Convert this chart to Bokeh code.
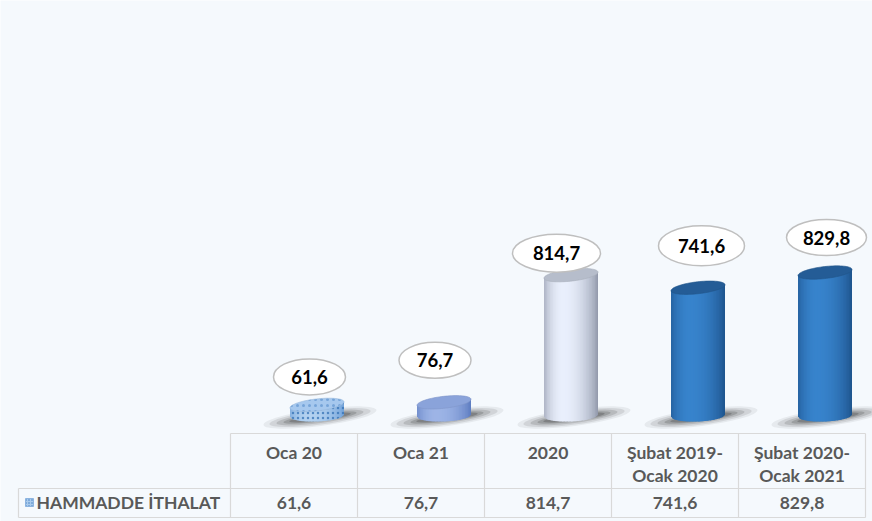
import numpy as np
from bokeh.plotting import figure
from bokeh.models import Range1d
from bokeh.core.properties import value
from bokeh.embed import file_html
from bokeh.resources import INLINE

# ---------------- data ----------------
categories = ["Oca 20", "Oca 21", "2020", "Şubat 2019-\nOcak 2020", "Şubat 2020-\nOcak 2021"]
values = [61.6, 76.7, 814.7, 741.6, 829.8]
value_labels = ["61,6", "76,7", "814,7", "741,6", "829,8"]
series_name = "HAMMADDE İTHALAT"

# ---------------- layout (reference pixel space) ----------------
W, H = 872, 521
REF_W, REF_H = 872, 521
COL0, COLW = 293.5, 127.0      # centre of first table column, column width
BASE, PXV = 415.0, 0.1723      # baseline y, px per value unit
CYL_DX = 23.0                  # cylinder offset right of column centre
RX, RY, TILT, BTILT = 27.0, 6.0, 0.11, 0.04
BG = "#F5F9FD"
FONT = value("Lato")


def X(px):
    return (px - COL0) / COLW


def Y(py):
    return (BASE - py) / PXV


def hex2rgb(h):
    h = h.lstrip("#")
    return np.array([int(h[k:k + 2], 16) for k in (0, 2, 4)], dtype=float)


def mix(a, b, t):
    c = hex2rgb(a) * (1 - t) + hex2rgb(b) * t
    return "#%02x%02x%02x" % tuple(int(round(v)) for v in c)


def shade(u, uh=-0.3):
    if u < uh:
        d = (uh - u) / (1 + uh)
        return 0.3 + 0.7 * np.cos(d * np.pi / 2) ** 0.7
    d = (u - uh) / (1 - uh)
    return np.cos(min(d, 1.0) * np.pi / 2) ** 0.7


p = figure(width=W, height=H, x_range=Range1d(X(0), X(REF_W)), y_range=Range1d(Y(REF_H), Y(0)),
           output_backend="svg", toolbar_location=None, min_border=0,
           x_axis_location=None, y_axis_location=None,
           background_fill_color=BG, border_fill_color=BG, outline_line_color=None)
p.grid.visible = False

styles = [
    dict(dark="#6C9FD8", light="#B3D1F0", top="#A6C8EE", hatch="dot"),
    dict(dark="#5878BE", light="#9DB4E6", top="#8AA3DA", hatch=None),
    dict(dark="#8B92A5", light="#E9EFFC", top="#B6BDCB", hatch=None),
    dict(dark="#1C5189", light="#3783CC", top="#245C96", hatch=None),
    dict(dark="#1C5189", light="#3783CC", top="#245C96", hatch=None),
]
LABEL_DX = [-7.5, -9.0, -14.5, 3.5, 1.5]
LABEL_UP = [28, 42, 22, 42, 35]
LABEL_W = [72, 72, 88, 86, 80]
LABEL_H = [36, 36, 38, 40, 36]

# shadows (tilted, darker close to the base)
for i, v in enumerate(values):
    cx = COL0 + COLW * i + CYL_DX
    for w, h, a in [(114, 17, 0.06), (102, 14, 0.09), (88, 11, 0.12), (74, 8, 0.15), (62, 6, 0.18)]:
        p.ellipse(x=[X(cx + 3)], y=[Y(BASE + 2)], width=w / COLW, height=h / PXV, angle=0.13,
                  fill_color="#000000", fill_alpha=a, line_color=None)

# cylinders
N = 36
us = np.linspace(-1, 1, N + 1)
for i, v in enumerate(values):
    st = styles[i]
    cx = COL0 + COLW * i + CYL_DX
    top = BASE - PXV * v
    xs, ys, cols = [], [], []
    for j in range(N):
        u0 = us[j]
        u1 = min(1.0, us[j + 1] + 1.0 / N)   # overlap to hide seams
        col = mix(st["dark"], st["light"], shade((us[j] + us[j + 1]) / 2))
        px = [cx + u0 * RX, cx + u1 * RX, cx + u1 * RX, cx + u0 * RX]
        py = [top - u0 * RX * TILT, top - u1 * RX * TILT,
              BASE - u1 * RX * BTILT + RY * np.sqrt(max(0, 1 - u1 ** 2)),
              BASE - u0 * RX * BTILT + RY * np.sqrt(max(0, 1 - u0 ** 2))]
        xs.append([X(q) for q in px])
        ys.append([Y(q) for q in py])
        cols.append(col)
    p.patches(xs=xs, ys=ys, fill_color=cols, line_color=None)
    if st["hatch"]:
        # dotted pattern over the whole side
        sx = [cx - RX + k * 2 * RX / 40 for k in range(41)]
        outline_x = sx + sx[::-1]
        outline_y = ([top - (q - cx) * TILT for q in sx] +
                     [BASE - (q - cx) * BTILT + RY * np.sqrt(max(0, 1 - ((q - cx) / RX) ** 2)) for q in sx[::-1]])
        p.patch(x=[X(q) for q in outline_x], y=[Y(q) for q in outline_y], fill_alpha=0,
                line_color=None, hatch_pattern="dot", hatch_color="#3672B5", hatch_alpha=0.75,
                hatch_scale=5)
    th = np.linspace(0, 2 * np.pi, 80)
    ex = cx + RX * np.cos(th)
    ey = top - RX * TILT * np.cos(th) + RY * np.sin(th)
    kw = {}
    if st["hatch"]:
        kw = dict(hatch_pattern="dot", hatch_color="#4F86C6", hatch_alpha=0.55, hatch_scale=6)
    p.patch(x=[X(q) for q in ex], y=[Y(q) for q in ey], fill_color=st["top"],
            line_color=mix(st["top"], "#000000", 0.08), line_width=0.6, **kw)

# data labels
for i, v in enumerate(values):
    cx = COL0 + COLW * i + CYL_DX + LABEL_DX[i]
    cy = BASE - PXV * v - LABEL_UP[i]
    p.ellipse(x=[X(cx)], y=[Y(cy)], width=LABEL_W[i] / COLW, height=LABEL_H[i] / PXV,
              fill_color="white", line_color="#BFBFBF", line_width=1.5)
    p.text(x=[X(cx)], y=[Y(cy)], text=[value_labels[i]], text_font=FONT,
           text_font_style="bold", text_font_size="18.5px", text_color="#000000",
           text_align="center", text_baseline="middle")

# data table
GRID = "#D9D9D9"
TX = "#595959"
TFS = "17.5px"
T_TOP, T_MID, T_BOT = 433, 488, 517
T_LEFT, LBL_LEFT = COL0 - COLW / 2, 18
T_RIGHT = T_LEFT + COLW * len(categories)
p.segment(x0=[X(T_LEFT), X(LBL_LEFT), X(LBL_LEFT)], x1=[X(T_RIGHT)] * 3,
          y0=[Y(T_TOP), Y(T_MID), Y(T_BOT)], y1=[Y(T_TOP), Y(T_MID), Y(T_BOT)],
          line_color=GRID, line_width=1.2)
vx = [T_LEFT + COLW * k for k in range(len(categories) + 1)]
p.segment(x0=[X(q) for q in vx] + [X(LBL_LEFT)], x1=[X(q) for q in vx] + [X(LBL_LEFT)],
          y0=[Y(T_TOP)] * len(vx) + [Y(T_MID)], y1=[Y(T_BOT)] * (len(vx) + 1),
          line_color=GRID, line_width=1.2)

for i, c in enumerate(categories):
    lines = c.split("\n")
    for k, ln in enumerate(lines):
        p.text(x=[i], y=[Y(452 + 23 * k)], text=[ln], text_font=FONT, text_font_style="bold",
               text_font_size=TFS, text_color=TX, text_align="center", text_baseline="middle")
    p.text(x=[i], y=[Y(502)], text=[value_labels[i]], text_font=FONT, text_font_style="bold",
           text_font_size=TFS, text_color=TX, text_align="center", text_baseline="middle")

# legend key + series name
p.quad(left=[X(25)], right=[X(33)], bottom=[Y(506)], top=[Y(498)], fill_color="#A9CAEC",
       line_color="#8DB4E0", hatch_pattern="dot", hatch_color="#3E7DC0", hatch_scale=3)
p.text(x=[X(36)], y=[Y(502)], text=[series_name], text_font=FONT, text_font_style="bold",
       text_font_size=TFS, text_color=TX, text_align="left", text_baseline="middle")

open("out.html", "w").write(file_html(p, INLINE))
